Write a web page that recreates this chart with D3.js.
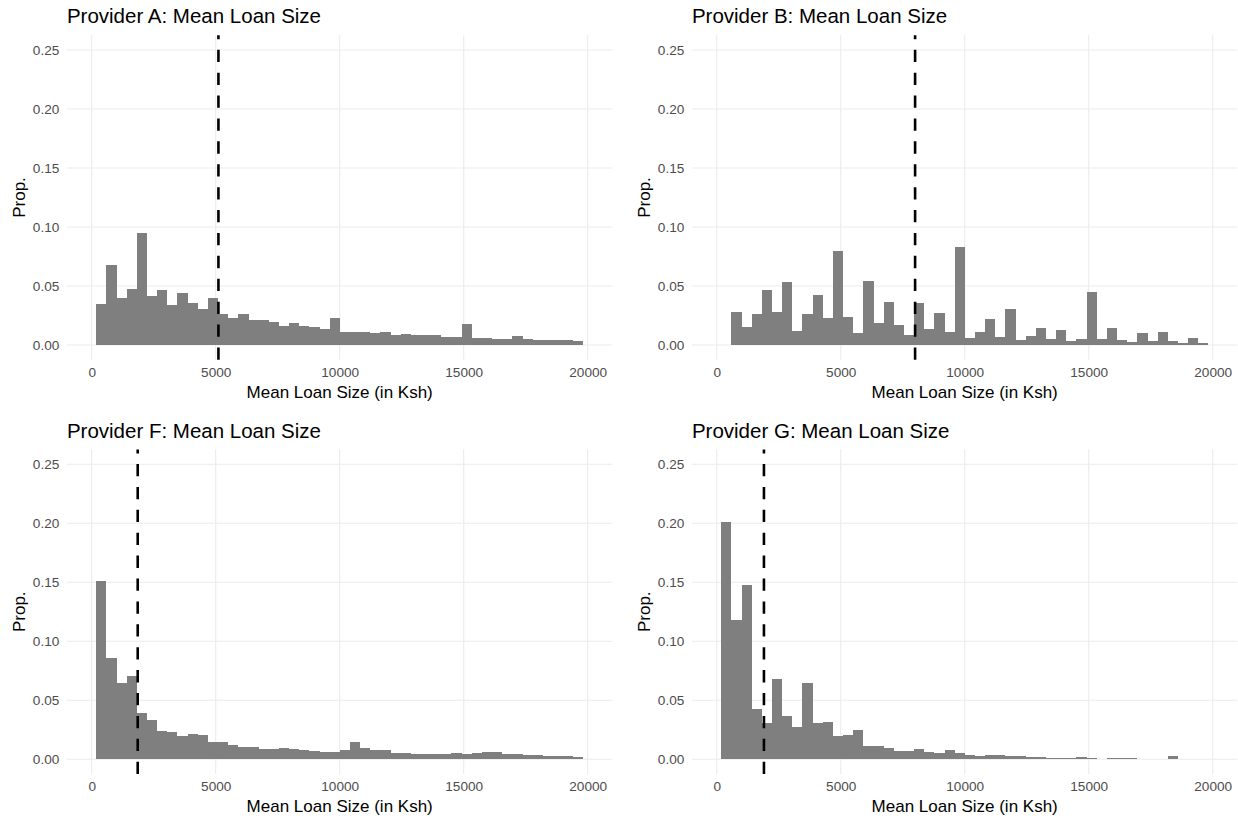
<!DOCTYPE html>
<html lang="en">
    <head>
        <meta charset="utf-8">
        <title>Mean Loan Size</title>
        <script src="https://d3js.org/d3.v7.min.js" charset="utf-8"></script>
        <style> html,body{margin:0;padding:0;background:#fff;} </style>
    </head>
    <body>
        <script type="text/javascript">

        // histogram bins (Ksh), shared by all four providers
        var binStart = 185;
        var binWidth = 409.2;

        // proportion per bin
        var provA = [0.0344,0.0676,0.0397,0.0473,0.0946,0.0414,0.0465,0.0341,0.0442,0.0352,0.0301,0.0400,
                     0.0259,0.0231,0.0262,0.0211,0.0208,0.0192,0.0163,0.0183,0.0158,0.0152,0.0138,0.0225,
                     0.0110,0.0107,0.0110,0.0099,0.0110,0.0085,0.0096,0.0087,0.0085,0.0082,0.0068,0.0070,
                     0.0175,0.0062,0.0059,0.0054,0.0048,0.0076,0.0051,0.0045,0.0042,0.0039,0.0042,0.0037];
        var provB = [0,0.0276,0.0152,0.0262,0.0470,0.0276,0.0530,0.0121,0.0262,0.0423,0.0225,0.0800,
                     0.0237,0.0099,0.0541,0.0186,0.0361,0.0166,0.0082,0.0352,0.0135,0.0268,0.0113,0.0834,
                     0.0062,0.0113,0.0217,0.0070,0.0304,0.0039,0.0073,0.0144,0.0054,0.0127,0.0031,0.0048,
                     0.0445,0.0054,0.0144,0.0042,0.0023,0.0099,0.0034,0.0113,0.0031,0.0020,0.0059,0.0020];
        var provF = [0.1508,0.0857,0.0649,0.0705,0.0393,0.0331,0.0242,0.0230,0.0194,0.0211,0.0202,0.0149,
                     0.0146,0.0124,0.0107,0.0104,0.0090,0.0087,0.0096,0.0090,0.0076,0.0073,0.0065,0.0060,
                     0.0081,0.0146,0.0093,0.0076,0.0079,0.0056,0.0053,0.0048,0.0048,0.0048,0.0045,0.0053,
                     0.0048,0.0056,0.0062,0.0062,0.0048,0.0042,0.0039,0.0034,0.0028,0.0028,0.0025,0.0022];
        var provG = [0.2008,0.1177,0.1480,0.0430,0.0306,0.0680,0.0365,0.0270,0.0643,0.0303,0.0315,0.0197,
                     0.0205,0.0247,0.0115,0.0110,0.0098,0.0073,0.0070,0.0084,0.0065,0.0053,0.0081,0.0051,
                     0.0039,0.0031,0.0039,0.0034,0.0025,0.0031,0.0020,0.0020,0.0014,0.0008,0.0008,0.0020,
                     0.0011,0.0006,0.0011,0.0008,0.0011,0.0006,0.0006,0.0006,0.0025,0.0006,0.0006,0.0003];

        // mean loan size per provider (dashed line)
        var means = [5110, 8000, 1855, 1905];
        var titles = ["Provider A: Mean Loan Size","Provider B: Mean Loan Size",
                      "Provider F: Mean Loan Size","Provider G: Mean Loan Size"];
        var series = [provA, provB, provF, provG];

        var xTicks = [0, 5000, 10000, 15000, 20000];
        var yTicks = [0, 0.05, 0.10, 0.15, 0.20, 0.25];

        var svg = d3.select("body").append("svg")
            .attr("width", 1238)
            .attr("height", 820)
            .style("font-family", "'Liberation Sans', Arial, sans-serif");

        // panel geometry
        var pw = 545.6, ph = 324.5;
        var origins = [[66.9, 35.25], [691.9, 35.25], [66.9, 449.5], [691.9, 449.5]];

        // ggplot-ish 5% expansion
        var x = d3.scaleLinear().domain([-1000, 21000]).range([0, pw]);
        var y = d3.scaleLinear().domain([-0.0125, 0.2625]).range([ph, 0]);

        series.forEach(function(vals, k){

          var g = svg.append("g")
              .attr("transform", "translate(" + origins[k][0] + "," + origins[k][1] + ")");

          // grid
          g.selectAll("line.hgrid").data(yTicks).enter().append("line")
              .attr("class", "hgrid")
              .attr("x1", 0).attr("x2", pw)
              .attr("y1", function(d){return y(d);})
              .attr("y2", function(d){return y(d);})
              .attr("stroke", "#ebebeb")
              .attr("stroke-width", 1.1);

          g.selectAll("line.vgrid").data(xTicks).enter().append("line")
              .attr("class", "vgrid")
              .attr("y1", 0).attr("y2", ph)
              .attr("x1", function(d){return x(d);})
              .attr("x2", function(d){return x(d);})
              .attr("stroke", "#ebebeb")
              .attr("stroke-width", 1.1);

          // bars
          g.selectAll("rect").data(vals).enter().append("rect")
              .attr("x", function(d, i){return x(binStart + i * binWidth);})
              .attr("width", function(d, i){return x(binStart + (i + 1) * binWidth) - x(binStart + i * binWidth);})
              .attr("y", function(d){return y(d);})
              .attr("height", function(d){return y(0) - y(d);})
              .attr("fill", "#7f7f7f")
              .attr("shape-rendering", "crispEdges");

          // mean line
          g.append("line")
              .attr("x1", x(means[k])).attr("x2", x(means[k]))
              .attr("y1", ph).attr("y2", 0)
              .attr("stroke", "#000")
              .attr("stroke-width", 2.6)
              .attr("stroke-dasharray", "12.3,10.6");

          // axes
          var ax = g.append("g")
              .attr("transform", "translate(0," + ph + ")")
              .call(d3.axisBottom(x).tickValues(xTicks).tickSize(0).tickFormat(d3.format("d")));
          ax.select(".domain").remove();
          ax.selectAll("text")
              .attr("y", 17).attr("dy", 0)
              .attr("fill", "#4d4d4d")
              .style("font-size", "13.6px")
              .style("font-family", "'Liberation Sans', Arial, sans-serif");

          var ay = g.append("g")
              .call(d3.axisLeft(y).tickValues(yTicks).tickSize(0).tickPadding(7.6).tickFormat(d3.format(".2f")));
          ay.select(".domain").remove();
          ay.selectAll("text")
              .attr("fill", "#4d4d4d")
              .style("font-size", "13.6px")
              .style("font-family", "'Liberation Sans', Arial, sans-serif");

          // labels
          g.append("text")
              .attr("x", pw / 2).attr("y", ph + 38)
              .attr("text-anchor", "middle")
              .style("font-size", "17px")
              .text("Mean Loan Size (in Ksh)");

          g.append("text")
              .attr("transform", "translate(" + (-41.5) + "," + (ph / 2) + ") rotate(-90)")
              .attr("text-anchor", "middle")
              .style("font-size", "17px")
              .text("Prop.");

          g.append("text")
              .attr("x", 0).attr("y", -12)
              .style("font-size", "20.5px")
              .text(titles[k]);
        });

        </script>
    </body>
</html>
